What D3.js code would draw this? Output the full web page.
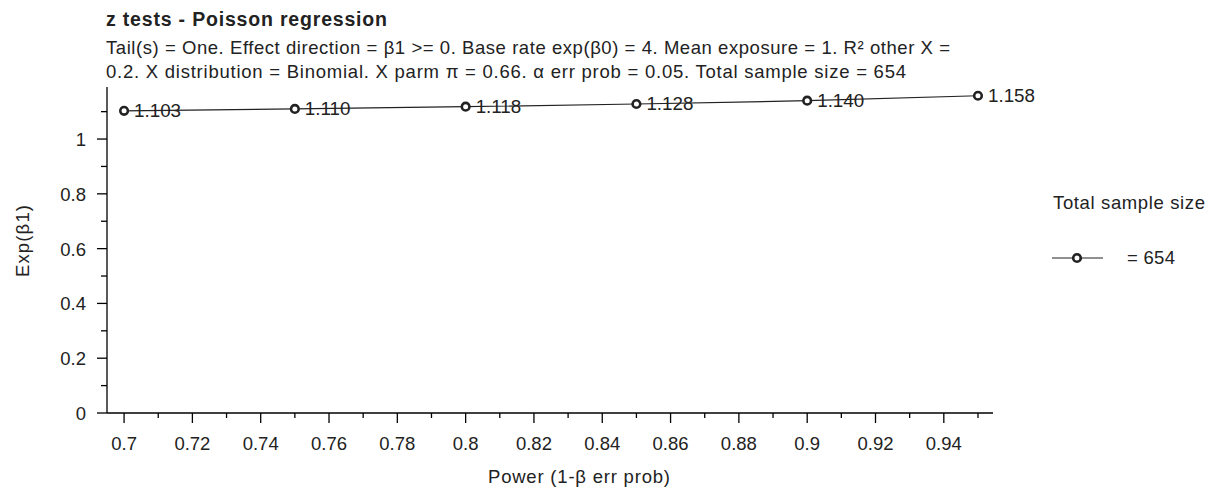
<!DOCTYPE html>
<html>
<head>
<meta charset="utf-8">
<script src="https://cdn.jsdelivr.net/npm/d3@7"></script>
<style>
  body { margin: 0; background: #fff; }
  svg { font-family: "Liberation Sans", Arial, sans-serif; }
</style>
</head>
<body>
<svg id="chart" width="1213" height="489"></svg>
<script>
// values
var power = [0.70, 0.75, 0.80, 0.85, 0.90, 0.95];
var expB1 = [1.103, 1.110, 1.118, 1.128, 1.140, 1.158];
var pointLabels = ["1.103", "1.110", "1.118", "1.128", "1.140", "1.158"];
var xTicks = [0.7, 0.72, 0.74, 0.76, 0.78, 0.8, 0.82, 0.84, 0.86, 0.88, 0.9, 0.92, 0.94];
var xMinor = [0.71, 0.73, 0.75, 0.77, 0.79, 0.81, 0.83, 0.85, 0.87, 0.89, 0.91, 0.93, 0.95];
var yTicks = [0, 0.2, 0.4, 0.6, 0.8, 1];
var yMinor = [0.1, 0.3, 0.5, 0.7, 0.9, 1.1];
var seriesName = "= 654";

var title = "z tests - Poisson regression";
var subtitle = [
    "Tail(s) = One. Effect direction = β1 >= 0. Base rate exp(β0) = 4. Mean exposure = 1. R² other X =",
    "0.2. X distribution = Binomial. X parm π = 0.66. α err prob = 0.05. Total sample size = 654"
];
var subWidths = [844, 800];

var svg = d3.select("#chart");
var plotL = 107, plotR = 993, plotT = 87, plotB = 413;
var ink = "#222";

var x = d3.scaleLinear().domain([0.695, 0.9544]).range([plotL, plotR]);
var y = d3.scaleLinear().domain([0, 1.19]).range([plotB, plotT]);

svg.append("text")
    .attr("x", 106).attr("y", 26)
    .attr("textLength", 281).attr("lengthAdjust", "spacing")
    .style("font-size", "19.5px")
    .style("font-weight", "bold")
    .style("fill", ink)
    .text(title);

svg.selectAll("text.sub")
    .data(subtitle)
    .enter().append("text")
    .attr("class", "sub")
    .attr("x", 106)
    .attr("y", function(d, i) { return 54 + i * 23.5; })
    .attr("textLength", function(d, i) { return subWidths[i]; })
    .attr("lengthAdjust", "spacing")
    .style("font-size", "18.5px")
    .style("fill", ink)
    .text(function(d) { return d; });

// axes
var xAxis = svg.append("g").attr("transform", "translate(0," + plotB + ")");
xAxis.append("line").attr("x1", plotL).attr("x2", plotR).attr("stroke", "#000").attr("stroke-width", 1.3);
xAxis.selectAll("line.minor")
    .data(xMinor)
    .enter().append("line")
    .attr("class", "minor")
    .attr("x1", function(d) { return x(d); }).attr("x2", function(d) { return x(d); })
    .attr("y1", 0).attr("y2", 5)
    .attr("stroke", "#000").attr("stroke-width", 1.3);
xAxis.selectAll("line.major")
    .data(xTicks)
    .enter().append("line")
    .attr("class", "major")
    .attr("x1", function(d) { return x(d); }).attr("x2", function(d) { return x(d); })
    .attr("y1", 0).attr("y2", 10)
    .attr("stroke", "#000").attr("stroke-width", 1.3);
xAxis.selectAll("text")
    .data(xTicks)
    .enter().append("text")
    .attr("x", function(d) { return x(d); })
    .attr("y", 37)
    .attr("text-anchor", "middle")
    .style("font-size", "18.5px")
    .style("fill", ink)
    .text(function(d) { return d3.format("")(d); });

var yAxis = svg.append("g").attr("transform", "translate(" + plotL + ",0)");
yAxis.append("line").attr("y1", plotT).attr("y2", plotB).attr("stroke", "#000").attr("stroke-width", 1.3);
yAxis.selectAll("line.minor")
    .data(yMinor)
    .enter().append("line")
    .attr("class", "minor")
    .attr("y1", function(d) { return y(d); }).attr("y2", function(d) { return y(d); })
    .attr("x1", 0).attr("x2", -6)
    .attr("stroke", "#000").attr("stroke-width", 1.3);
yAxis.selectAll("line.major")
    .data(yTicks)
    .enter().append("line")
    .attr("class", "major")
    .attr("y1", function(d) { return y(d); }).attr("y2", function(d) { return y(d); })
    .attr("x1", 0).attr("x2", -10)
    .attr("stroke", "#000").attr("stroke-width", 1.3);
yAxis.selectAll("text")
    .data(yTicks)
    .enter().append("text")
    .attr("x", -21)
    .attr("y", function(d) { return y(d) + 7; })
    .attr("text-anchor", "end")
    .style("font-size", "18.5px")
    .style("fill", ink)
    .text(function(d) { return d3.format("")(d); });

svg.append("text")
    .attr("x", 488).attr("y", 483)
    .attr("textLength", 182).attr("lengthAdjust", "spacing")
    .style("font-size", "18.5px")
    .style("fill", ink)
    .text("Power (1-β err prob)");

svg.append("text")
    .attr("transform", "translate(29,277) rotate(-90)")
    .attr("textLength", 72).attr("lengthAdjust", "spacing")
    .style("font-size", "18.5px")
    .style("fill", ink)
    .text("Exp(β1)");

// series
var pts = power.map(function(p, i) { return { x: p, y: expB1[i], label: pointLabels[i] }; });

svg.selectAll("text.lab")
    .data(pts)
    .enter().append("text")
    .attr("class", "lab")
    .attr("x", function(d) { return x(d.x) + 10; })
    .attr("y", function(d) { return y(d.y) + 6.5; })
    .style("font-size", "18.8px")
    .style("fill", ink)
    .text(function(d) { return d.label; });

svg.append("path")
    .datum(pts)
    .attr("fill", "none")
    .attr("stroke", ink)
    .attr("stroke-width", 1.2)
    .attr("d", d3.line().x(function(d) { return x(d.x); }).y(function(d) { return y(d.y); }));

svg.selectAll("circle.pt")
    .data(pts)
    .enter().append("circle")
    .attr("class", "pt")
    .attr("cx", function(d) { return x(d.x); })
    .attr("cy", function(d) { return y(d.y); })
    .attr("r", 3.8)
    .attr("fill", "#fff")
    .attr("stroke", ink)
    .attr("stroke-width", 2.6);

// legend
var legend = svg.append("g");
legend.append("text")
    .attr("x", 1053).attr("y", 209)
    .attr("textLength", 152).attr("lengthAdjust", "spacing")
    .style("font-size", "18.5px")
    .style("fill", ink)
    .text("Total sample size");
legend.append("line")
    .attr("x1", 1052).attr("x2", 1103).attr("y1", 258).attr("y2", 258)
    .attr("stroke", ink).attr("stroke-width", 1.2);
legend.append("circle")
    .attr("cx", 1077).attr("cy", 258).attr("r", 3.8)
    .attr("fill", "#fff").attr("stroke", ink).attr("stroke-width", 2.6);
legend.append("text")
    .attr("x", 1127).attr("y", 264)
    .attr("textLength", 48).attr("lengthAdjust", "spacing")
    .style("font-size", "18.5px")
    .style("fill", ink)
    .text(seriesName);
</script>
</body>
</html>
